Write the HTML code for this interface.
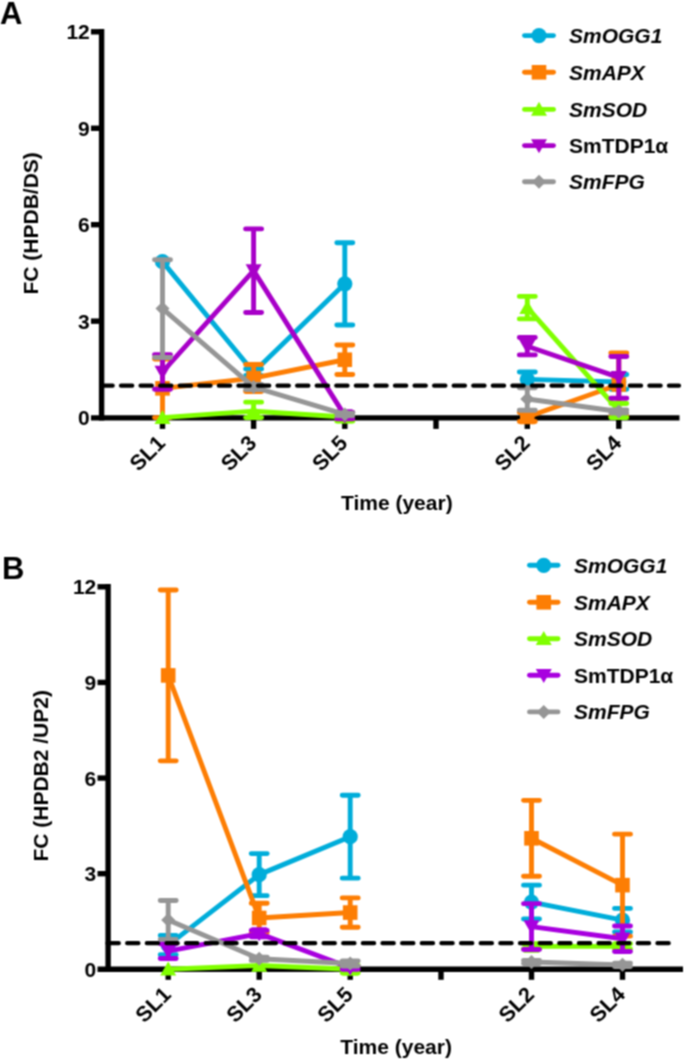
<!DOCTYPE html>
<html><head><meta charset="utf-8"><style>
html,body{margin:0;padding:0;background:#fff;}
svg{display:block;font-family:"Liberation Sans",sans-serif;}
</style></head><body>
<svg width="685" height="1060" viewBox="0 0 685 1060">
<defs><filter id="soft" x="0" y="0" width="685" height="1060" filterUnits="userSpaceOnUse" color-interpolation-filters="sRGB"><feConvolveMatrix order="3" kernelMatrix="1 2 1 2 4 2 1 2 1" divisor="16" edgeMode="duplicate"/></filter></defs>
<g filter="url(#soft)">
<rect width="685" height="1060" fill="#fff"/>
<g stroke="#000" stroke-width="5.4" fill="none">
<path d="M101.6 29.1V420.6"/>
<path d="M91 321.15H101.6"/>
<path d="M91 224.7H101.6"/>
<path d="M91 128.25H101.6"/>
<path d="M91 31.8H101.6"/>
<path d="M91 417.9H679.5"/>
<path d="M162.5 417.9V428.9"/>
<path d="M253.6 417.9V428.9"/>
<path d="M344.8 417.9V428.9"/>
<path d="M436 417.9V428.9"/>
<path d="M527.3 417.9V428.9"/>
<path d="M618.8 417.9V428.9"/>
</g>
<g font-size="21" font-weight="bold" text-anchor="end">
<text x="89.8" y="425.1">0</text>
<text x="89.8" y="328.65">3</text>
<text x="89.8" y="232.2">6</text>
<text x="89.8" y="135.75">9</text>
<text x="89.8" y="39.3">12</text>
</g>
<g font-size="21.5" font-weight="bold" text-anchor="end">
<text x="166.5" y="444.4" transform="rotate(-45 166.5 444.4)">SL1</text>
<text x="257.6" y="444.4" transform="rotate(-45 257.6 444.4)">SL3</text>
<text x="348.8" y="444.4" transform="rotate(-45 348.8 444.4)">SL5</text>
<text x="531.3" y="444.4" transform="rotate(-45 531.3 444.4)">SL2</text>
<text x="622.8" y="444.4" transform="rotate(-45 622.8 444.4)">SL4</text>
</g>
<text x="396.8" y="509.6" font-size="21" font-weight="bold" text-anchor="middle">Time (year)</text>
<text x="38.5" y="223.3" font-size="21" font-weight="bold" text-anchor="middle" transform="rotate(-90 38.5 223.3)">FC (HPDB/DS)</text>
<text x="0" y="24" font-size="31" font-weight="bold">A</text>
<g stroke="#00ADDA" fill="none" stroke-width="4.9" stroke-linejoin="round">
<path d="M162.5 261.67 L253.6 372.27 L344.8 283.86"/>
<path d="M527.3 379.34 L618.8 381.91"/>
<path stroke-width="4.9" d="M253.6 369.05V375.48"/>
<path stroke-width="4.9" stroke-linecap="round" d="M245.6 369.05h16M245.6 375.48h16"/>
<path stroke-width="4.9" d="M344.8 242.7V325.01"/>
<path stroke-width="4.9" stroke-linecap="round" d="M336.8 242.7h16M336.8 325.01h16"/>
<path stroke-width="4.9" d="M527.3 371.95V386.74"/>
<path stroke-width="4.9" stroke-linecap="round" d="M519.3 371.95h16M519.3 386.74h16"/>
<path stroke-width="4.9" d="M618.8 374.52V389.31"/>
<path stroke-width="4.9" stroke-linecap="round" d="M610.8 374.52h16M610.8 389.31h16"/>
</g>
<circle cx="162.5" cy="261.67" r="7.6" fill="#00ADDA"/>
<circle cx="253.6" cy="372.27" r="7.6" fill="#00ADDA"/>
<circle cx="344.8" cy="283.86" r="7.6" fill="#00ADDA"/>
<circle cx="527.3" cy="379.34" r="7.6" fill="#00ADDA"/>
<circle cx="618.8" cy="381.91" r="7.6" fill="#00ADDA"/>
<g stroke="#FD7E04" fill="none" stroke-width="4.9" stroke-linejoin="round">
<path d="M162.5 388.34 L253.6 378.06 L344.8 359.73"/>
<path d="M527.3 416.96 L618.8 384.49"/>
<path stroke-width="4.9" d="M162.5 359.09V417.6"/>
<path stroke-width="4.9" stroke-linecap="round" d="M154.5 359.09h16M154.5 417.6h16"/>
<path stroke-width="4.9" d="M253.6 364.55V391.56"/>
<path stroke-width="4.9" stroke-linecap="round" d="M245.6 364.55h16M245.6 391.56h16"/>
<path stroke-width="4.9" d="M344.8 344.94V374.52"/>
<path stroke-width="4.9" stroke-linecap="round" d="M336.8 344.94h16M336.8 374.52h16"/>
<path stroke-width="4.9" d="M527.3 412.46V421.46"/>
<path stroke-width="4.9" stroke-linecap="round" d="M519.3 412.46h16M519.3 421.46h16"/>
<path stroke-width="4.9" d="M618.8 352.98V415.99"/>
<path stroke-width="4.9" stroke-linecap="round" d="M610.8 352.98h16M610.8 415.99h16"/>
</g>
<rect x="155.2" y="381.04" width="14.6" height="14.6" fill="#FD7E04"/>
<rect x="246.3" y="370.76" width="14.6" height="14.6" fill="#FD7E04"/>
<rect x="337.5" y="352.43" width="14.6" height="14.6" fill="#FD7E04"/>
<rect x="520" y="409.66" width="14.6" height="14.6" fill="#FD7E04"/>
<rect x="611.5" y="377.19" width="14.6" height="14.6" fill="#FD7E04"/>
<g stroke="#80FF00" fill="none" stroke-width="4.9" stroke-linejoin="round">
<path d="M162.5 417.6 L253.6 411.17 L344.8 416.96"/>
<path d="M527.3 307.65 L618.8 410.53"/>
<path stroke-width="4.9" d="M253.6 402.17V417.6"/>
<path stroke-width="4.9" stroke-linecap="round" d="M245.6 402.17h16M245.6 417.6h16"/>
<path stroke-width="4.9" d="M344.8 412.78V421.14"/>
<path stroke-width="4.9" stroke-linecap="round" d="M336.8 412.78h16M336.8 421.14h16"/>
<path stroke-width="4.9" d="M527.3 296.39V318.9"/>
<path stroke-width="4.9" stroke-linecap="round" d="M519.3 296.39h16M519.3 318.9h16"/>
<path stroke-width="4.9" d="M618.8 403.45V417.6"/>
<path stroke-width="4.9" stroke-linecap="round" d="M610.8 403.45h16M610.8 417.6h16"/>
</g>
<path d="M162.5 409.9L170.5 423.9L154.5 423.9Z" fill="#80FF00"/>
<path d="M253.6 403.47L261.6 417.47L245.6 417.47Z" fill="#80FF00"/>
<path d="M344.8 409.26L352.8 423.26L336.8 423.26Z" fill="#80FF00"/>
<path d="M527.3 299.95L535.3 313.95L519.3 313.95Z" fill="#80FF00"/>
<path d="M618.8 402.83L626.8 416.83L610.8 416.83Z" fill="#80FF00"/>
<g stroke="#A800C8" fill="none" stroke-width="4.9" stroke-linejoin="round">
<path d="M162.5 371.95 L253.6 270.67 L344.8 415.67"/>
<path d="M527.3 346.23 L618.8 377.41"/>
<path stroke-width="4.9" d="M162.5 354.59V389.31"/>
<path stroke-width="4.9" stroke-linecap="round" d="M154.5 354.59h16M154.5 389.31h16"/>
<path stroke-width="4.9" d="M253.6 228.88V312.47"/>
<path stroke-width="4.9" stroke-linecap="round" d="M245.6 228.88h16M245.6 312.47h16"/>
<path stroke-width="4.9" d="M344.8 412.46V418.89"/>
<path stroke-width="4.9" stroke-linecap="round" d="M336.8 412.46h16M336.8 418.89h16"/>
<path stroke-width="4.9" d="M527.3 337.55V354.91"/>
<path stroke-width="4.9" stroke-linecap="round" d="M519.3 337.55h16M519.3 354.91h16"/>
<path stroke-width="4.9" d="M618.8 356.52V398.31"/>
<path stroke-width="4.9" stroke-linecap="round" d="M610.8 356.52h16M610.8 398.31h16"/>
</g>
<path d="M162.5 379.65L170.5 365.65L154.5 365.65Z" fill="#A800C8"/>
<path d="M253.6 278.37L261.6 264.37L245.6 264.37Z" fill="#A800C8"/>
<path d="M344.8 423.37L352.8 409.37L336.8 409.37Z" fill="#A800C8"/>
<path d="M527.3 353.93L535.3 339.93L519.3 339.93Z" fill="#A800C8"/>
<path d="M618.8 385.11L626.8 371.11L610.8 371.11Z" fill="#A800C8"/>
<g stroke="#969696" fill="none" stroke-width="4.9" stroke-linejoin="round">
<path d="M162.5 308.61 L253.6 387.06 L344.8 414.39"/>
<path d="M527.3 398.95 L618.8 411.49"/>
<path stroke-width="4.9" d="M162.5 259.74V357.48"/>
<path stroke-width="4.9" stroke-linecap="round" d="M154.5 259.74h16M154.5 357.48h16"/>
<path stroke-width="4.9" d="M253.6 384.49V389.63"/>
<path stroke-width="4.9" stroke-linecap="round" d="M245.6 384.49h16M245.6 389.63h16"/>
<path stroke-width="4.9" d="M344.8 413.1V415.67"/>
<path stroke-width="4.9" stroke-linecap="round" d="M336.8 413.1h16M336.8 415.67h16"/>
<path stroke-width="4.9" d="M527.3 387.7V410.21"/>
<path stroke-width="4.9" stroke-linecap="round" d="M519.3 387.7h16M519.3 410.21h16"/>
<path stroke-width="4.9" d="M618.8 409.88V413.1"/>
<path stroke-width="4.9" stroke-linecap="round" d="M610.8 409.88h16M610.8 413.1h16"/>
</g>
<path d="M162.5 301.61L169.5 308.61L162.5 315.61L155.5 308.61Z" fill="#969696"/>
<path d="M253.6 380.06L260.6 387.06L253.6 394.06L246.6 387.06Z" fill="#969696"/>
<path d="M344.8 407.39L351.8 414.39L344.8 421.39L337.8 414.39Z" fill="#969696"/>
<path d="M527.3 391.95L534.3 398.95L527.3 405.95L520.3 398.95Z" fill="#969696"/>
<path d="M618.8 404.49L625.8 411.49L618.8 418.49L611.8 411.49Z" fill="#969696"/>
<path d="M101.4 385.7H679" stroke="#000" stroke-width="4.2" stroke-linecap="round" stroke-dasharray="11.3 8.27" fill="none"/>
<path d="M524.5 35.6H553.5" stroke="#00ADDA" stroke-width="4.9" stroke-linecap="round"/>
<circle cx="539" cy="35.6" r="7.6" fill="#00ADDA"/>
<text x="569" y="43.1" font-size="21" font-weight="bold" font-style="italic">SmOGG1</text>
<path d="M524.5 72.3H553.5" stroke="#FD7E04" stroke-width="4.9" stroke-linecap="round"/>
<rect x="531.7" y="65" width="14.6" height="14.6" fill="#FD7E04"/>
<text x="569" y="79.8" font-size="21" font-weight="bold" font-style="italic">SmAPX</text>
<path d="M524.5 109.4H553.5" stroke="#80FF00" stroke-width="4.9" stroke-linecap="round"/>
<path d="M539 101.7L547 115.7L531 115.7Z" fill="#80FF00"/>
<text x="569" y="116.9" font-size="21" font-weight="bold" font-style="italic">SmSOD</text>
<path d="M524.5 145.6H553.5" stroke="#A800C8" stroke-width="4.9" stroke-linecap="round"/>
<path d="M539 153.3L547 139.3L531 139.3Z" fill="#A800C8"/>
<text x="569" y="153.1" font-size="21" font-weight="bold">SmTDP1α</text>
<path d="M524.5 181.8H553.5" stroke="#969696" stroke-width="4.9" stroke-linecap="round"/>
<path d="M539 174.8L546 181.8L539 188.8L532 181.8Z" fill="#969696"/>
<text x="569" y="189.3" font-size="21" font-weight="bold" font-style="italic">SmFPG</text>
<g stroke="#000" stroke-width="5.4" fill="none">
<path d="M108.1 584.1V972"/>
<path d="M97.5 873.67H108.1"/>
<path d="M97.5 778.05H108.1"/>
<path d="M97.5 682.42H108.1"/>
<path d="M97.5 586.8H108.1"/>
<path d="M97.5 969.3H683"/>
<path d="M168.2 969.3V979.8"/>
<path d="M259.2 969.3V979.8"/>
<path d="M350.2 969.3V979.8"/>
<path d="M441 969.3V979.8"/>
<path d="M531.5 969.3V979.8"/>
<path d="M622.5 969.3V979.8"/>
</g>
<g font-size="21" font-weight="bold" text-anchor="end">
<text x="96.3" y="976.8">0</text>
<text x="96.3" y="881.17">3</text>
<text x="96.3" y="785.55">6</text>
<text x="96.3" y="689.92">9</text>
<text x="96.3" y="594.3">12</text>
</g>
<g font-size="21.5" font-weight="bold" text-anchor="end">
<text x="172.2" y="995.8" transform="rotate(-45 172.2 995.8)">SL1</text>
<text x="263.2" y="995.8" transform="rotate(-45 263.2 995.8)">SL3</text>
<text x="354.2" y="995.8" transform="rotate(-45 354.2 995.8)">SL5</text>
<text x="535.5" y="995.8" transform="rotate(-45 535.5 995.8)">SL2</text>
<text x="626.5" y="995.8" transform="rotate(-45 626.5 995.8)">SL4</text>
</g>
<text x="396.1" y="1053.9" font-size="21" font-weight="bold" text-anchor="middle">Time (year)</text>
<text x="48.5" y="775.8" font-size="21" font-weight="bold" text-anchor="middle" transform="rotate(-90 48.5 775.8)">FC (HPDB2 /UP2)</text>
<text x="2" y="579" font-size="31" font-weight="bold">B</text>
<g stroke="#00ADDA" fill="none" stroke-width="4.9" stroke-linejoin="round">
<path d="M168.2 945.07 L259.2 874.63 L350.2 836.7"/>
<path d="M531.5 902.04 L622.5 920.21"/>
<path stroke-width="4.9" d="M168.2 935.51V954.64"/>
<path stroke-width="4.9" stroke-linecap="round" d="M160.2 935.51h16M160.2 954.64h16"/>
<path stroke-width="4.9" d="M259.2 853.59V895.67"/>
<path stroke-width="4.9" stroke-linecap="round" d="M251.2 853.59h16M251.2 895.67h16"/>
<path stroke-width="4.9" d="M350.2 795.26V878.14"/>
<path stroke-width="4.9" stroke-linecap="round" d="M342.2 795.26h16M342.2 878.14h16"/>
<path stroke-width="4.9" d="M531.5 885.15V918.94"/>
<path stroke-width="4.9" stroke-linecap="round" d="M523.5 885.15h16M523.5 918.94h16"/>
<path stroke-width="4.9" d="M622.5 908.42V932.01"/>
<path stroke-width="4.9" stroke-linecap="round" d="M614.5 908.42h16M614.5 932.01h16"/>
</g>
<circle cx="168.2" cy="945.07" r="7.6" fill="#00ADDA"/>
<circle cx="259.2" cy="874.63" r="7.6" fill="#00ADDA"/>
<circle cx="350.2" cy="836.7" r="7.6" fill="#00ADDA"/>
<circle cx="531.5" cy="902.04" r="7.6" fill="#00ADDA"/>
<circle cx="622.5" cy="920.21" r="7.6" fill="#00ADDA"/>
<g stroke="#FD7E04" fill="none" stroke-width="4.9" stroke-linejoin="round">
<path d="M168.2 675.41 L259.2 917.98 L350.2 912.56"/>
<path d="M531.5 838.29 L622.5 885.15"/>
<path stroke-width="4.9" d="M168.2 589.99V760.84"/>
<path stroke-width="4.9" stroke-linecap="round" d="M160.2 589.99h16M160.2 760.84h16"/>
<path stroke-width="4.9" d="M259.2 903.32V932.64"/>
<path stroke-width="4.9" stroke-linecap="round" d="M251.2 903.32h16M251.2 932.64h16"/>
<path stroke-width="4.9" d="M350.2 897.9V927.22"/>
<path stroke-width="4.9" stroke-linecap="round" d="M342.2 897.9h16M342.2 927.22h16"/>
<path stroke-width="4.9" d="M531.5 800.36V876.22"/>
<path stroke-width="4.9" stroke-linecap="round" d="M523.5 800.36h16M523.5 876.22h16"/>
<path stroke-width="4.9" d="M622.5 834.15V936.15"/>
<path stroke-width="4.9" stroke-linecap="round" d="M614.5 834.15h16M614.5 936.15h16"/>
</g>
<rect x="160.9" y="668.11" width="14.6" height="14.6" fill="#FD7E04"/>
<rect x="251.9" y="910.68" width="14.6" height="14.6" fill="#FD7E04"/>
<rect x="342.9" y="905.26" width="14.6" height="14.6" fill="#FD7E04"/>
<rect x="524.2" y="830.99" width="14.6" height="14.6" fill="#FD7E04"/>
<rect x="615.2" y="877.85" width="14.6" height="14.6" fill="#FD7E04"/>
<g stroke="#80FF00" fill="none" stroke-width="4.9" stroke-linejoin="round">
<path d="M168.2 969.3 L259.2 965.47 L350.2 969.3"/>
<path d="M531.5 946.35 L622.5 946.35"/>
<path stroke-width="4.9" d="M350.2 965.47V973.12"/>
<path stroke-width="4.9" stroke-linecap="round" d="M342.2 965.47h16M342.2 973.12h16"/>
<path stroke-width="4.9" d="M531.5 943.8V948.9"/>
<path stroke-width="4.9" stroke-linecap="round" d="M523.5 943.8h16M523.5 948.9h16"/>
<path stroke-width="4.9" d="M622.5 943.8V948.9"/>
<path stroke-width="4.9" stroke-linecap="round" d="M614.5 943.8h16M614.5 948.9h16"/>
</g>
<path d="M168.2 961.6L176.2 975.6L160.2 975.6Z" fill="#80FF00"/>
<path d="M259.2 957.77L267.2 971.77L251.2 971.77Z" fill="#80FF00"/>
<path d="M350.2 961.6L358.2 975.6L342.2 975.6Z" fill="#80FF00"/>
<path d="M531.5 938.65L539.5 952.65L523.5 952.65Z" fill="#80FF00"/>
<path d="M622.5 938.65L630.5 952.65L614.5 952.65Z" fill="#80FF00"/>
<g stroke="#A800DF" fill="none" stroke-width="4.9" stroke-linejoin="round">
<path d="M168.2 951.13 L259.2 933.6 L350.2 967.71"/>
<path d="M531.5 926.59 L622.5 938.7"/>
<path stroke-width="4.9" d="M168.2 943.8V958.46"/>
<path stroke-width="4.9" stroke-linecap="round" d="M160.2 943.8h16M160.2 958.46h16"/>
<path stroke-width="4.9" d="M259.2 930.41V936.79"/>
<path stroke-width="4.9" stroke-linecap="round" d="M251.2 930.41h16M251.2 936.79h16"/>
<path stroke-width="4.9" d="M350.2 966.11V969.3"/>
<path stroke-width="4.9" stroke-linecap="round" d="M342.2 966.11h16M342.2 969.3h16"/>
<path stroke-width="4.9" d="M531.5 903.64V949.54"/>
<path stroke-width="4.9" stroke-linecap="round" d="M523.5 903.64h16M523.5 949.54h16"/>
<path stroke-width="4.9" d="M622.5 925.95V951.45"/>
<path stroke-width="4.9" stroke-linecap="round" d="M614.5 925.95h16M614.5 951.45h16"/>
</g>
<path d="M168.2 958.83L176.2 944.83L160.2 944.83Z" fill="#A800DF"/>
<path d="M259.2 941.3L267.2 927.3L251.2 927.3Z" fill="#A800DF"/>
<path d="M350.2 975.41L358.2 961.41L342.2 961.41Z" fill="#A800DF"/>
<path d="M531.5 934.29L539.5 920.29L523.5 920.29Z" fill="#A800DF"/>
<path d="M622.5 946.4L630.5 932.4L614.5 932.4Z" fill="#A800DF"/>
<g stroke="#969696" fill="none" stroke-width="4.9" stroke-linejoin="round">
<path d="M168.2 919.89 L259.2 958.78 L350.2 963.56"/>
<path d="M531.5 961.97 L622.5 964.84"/>
<path stroke-width="4.9" d="M168.2 900.45V939.34"/>
<path stroke-width="4.9" stroke-linecap="round" d="M160.2 900.45h16M160.2 939.34h16"/>
<path stroke-width="4.9" d="M259.2 957.19V960.38"/>
<path stroke-width="4.9" stroke-linecap="round" d="M251.2 957.19h16M251.2 960.38h16"/>
<path stroke-width="4.9" d="M350.2 961.01V966.11"/>
<path stroke-width="4.9" stroke-linecap="round" d="M342.2 961.01h16M342.2 966.11h16"/>
<path stroke-width="4.9" d="M531.5 960.38V963.56"/>
<path stroke-width="4.9" stroke-linecap="round" d="M523.5 960.38h16M523.5 963.56h16"/>
<path stroke-width="4.9" d="M622.5 963.24V966.43"/>
<path stroke-width="4.9" stroke-linecap="round" d="M614.5 963.24h16M614.5 966.43h16"/>
</g>
<path d="M168.2 912.89L175.2 919.89L168.2 926.89L161.2 919.89Z" fill="#969696"/>
<path d="M259.2 951.78L266.2 958.78L259.2 965.78L252.2 958.78Z" fill="#969696"/>
<path d="M350.2 956.56L357.2 963.56L350.2 970.56L343.2 963.56Z" fill="#969696"/>
<path d="M531.5 954.97L538.5 961.97L531.5 968.97L524.5 961.97Z" fill="#969696"/>
<path d="M622.5 957.84L629.5 964.84L622.5 971.84L615.5 964.84Z" fill="#969696"/>
<path d="M107.5 943.2H677" stroke="#000" stroke-width="4.2" stroke-linecap="round" stroke-dasharray="11.3 8.34" fill="none"/>
<path d="M529.5 565.3H558" stroke="#00ADDA" stroke-width="4.9" stroke-linecap="round"/>
<circle cx="543.75" cy="565.3" r="7.6" fill="#00ADDA"/>
<text x="574" y="572.8" font-size="21" font-weight="bold" font-style="italic">SmOGG1</text>
<path d="M529.5 602.3H558" stroke="#FD7E04" stroke-width="4.9" stroke-linecap="round"/>
<rect x="536.45" y="595" width="14.6" height="14.6" fill="#FD7E04"/>
<text x="574" y="609.8" font-size="21" font-weight="bold" font-style="italic">SmAPX</text>
<path d="M529.5 638.7H558" stroke="#80FF00" stroke-width="4.9" stroke-linecap="round"/>
<path d="M543.75 631L551.75 645L535.75 645Z" fill="#80FF00"/>
<text x="574" y="646.2" font-size="21" font-weight="bold" font-style="italic">SmSOD</text>
<path d="M529.5 675.2H558" stroke="#A800DF" stroke-width="4.9" stroke-linecap="round"/>
<path d="M543.75 682.9L551.75 668.9L535.75 668.9Z" fill="#A800DF"/>
<text x="574" y="682.7" font-size="21" font-weight="bold">SmTDP1α</text>
<path d="M529.5 711.9H558" stroke="#969696" stroke-width="4.9" stroke-linecap="round"/>
<path d="M543.75 704.9L550.75 711.9L543.75 718.9L536.75 711.9Z" fill="#969696"/>
<text x="574" y="719.4" font-size="21" font-weight="bold" font-style="italic">SmFPG</text>
</g>
</svg>
</body></html>
